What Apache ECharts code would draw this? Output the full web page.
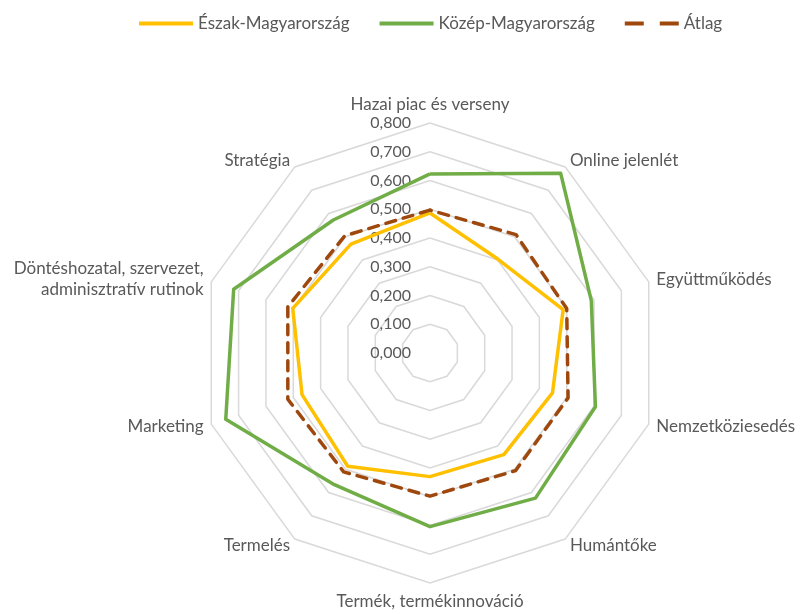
<!DOCTYPE html>
<html>
<head>
<meta charset="utf-8">
<script src="https://cdn.jsdelivr.net/npm/echarts@6/dist/echarts.min.js"></script>
<style>
  html, body { margin: 0; padding: 0; background: #ffffff; }
  #chart { width: 800px; height: 614px; }
</style>
</head>
<body>
<div id="chart"></div>
<script>
// Dimensions, listed clockwise from the top
const categories = [
  'Hazai piac és verseny',
  'Online jelenlét',
  'Együttműködés',
  'Nemzetköziesedés',
  'Humántőke',
  'Termék, termékinnováció',
  'Termelés',
  'Marketing',
  'Döntéshozatal, szervezet,\nadminisztratív rutinok',
  'Stratégia'
];

const seriesNames = ['Észak-Magyarország', 'Közép-Magyarország', 'Átlag'];

const eszakValues = [0.487, 0.403, 0.487, 0.448, 0.437, 0.430, 0.487, 0.468, 0.502, 0.468];
const kozepValues = [0.623, 0.773, 0.590, 0.605, 0.624, 0.604, 0.566, 0.747, 0.718, 0.572];
const atlagValues = [0.497, 0.509, 0.500, 0.505, 0.506, 0.498, 0.511, 0.520, 0.520, 0.504];

const axisMax = 0.8;
const axisSplits = 8;

// ECharts lays radar indicators out counter-clockwise, so keep the first
// one at the top and reverse the rest to get a clockwise order.
const order = [0].concat(categories.map((_, i) => i).slice(1).reverse());
const reorder = arr => order.map(i => arr[i]);

const labelFont = 'Lato, "Open Sans", sans-serif';
const textGray = '#595959';

const indicators = reorder(categories).map((name, i) => {
  const ind = { name: name, max: axisMax, min: 0 };
  if (i === 0) {
    ind.axisLabel = {
      show: true,
      margin: 19,
      color: textGray,
      fontSize: 16,
      fontFamily: labelFont,
      formatter: v => v.toFixed(3).replace('.', ',')
    };
  }
  return ind;
});

const colors = ['#FFC000', '#70AD47', '#9E480E'];

const chart = echarts.init(document.getElementById('chart'), null, { renderer: 'canvas' });

chart.setOption({
  animation: false,
  backgroundColor: '#ffffff',
  legend: {
    top: 10,
    left: 134,
    itemGap: 30,
    itemWidth: 54,
    itemHeight: 4,
    textStyle: { color: textGray, fontSize: 17, fontFamily: labelFont },
    data: [
      { name: seriesNames[0], icon: 'path://M0,0H54V4H0Z' },
      { name: seriesNames[1], icon: 'path://M0,0H54V4H0Z' },
      { name: seriesNames[2], icon: 'path://M0,0H19V4H0Z M35,0H54V4H35Z' }
    ]
  },
  radar: {
    center: [430, 353],
    radius: 230,
    startAngle: 90,
    shape: 'polygon',
    splitNumber: axisSplits,
    indicator: indicators,
    nameGap: 8,
    axisName: {
      color: textGray,
      fontSize: 17,
      fontFamily: labelFont,
      lineHeight: 21
    },
    axisLine: { show: false },
    axisTick: { show: false },
    axisLabel: { show: false },
    splitArea: { show: false },
    splitLine: { lineStyle: { color: '#D9D9D9', width: 1.5 } }
  },
  series: [{
    type: 'radar',
    symbol: 'none',
    data: [
      {
        name: seriesNames[0],
        value: reorder(eszakValues),
        lineStyle: { color: colors[0], width: 3.5 },
        itemStyle: { color: colors[0] }
      },
      {
        name: seriesNames[1],
        value: reorder(kozepValues),
        lineStyle: { color: colors[1], width: 3.5 },
        itemStyle: { color: colors[1] }
      },
      {
        name: seriesNames[2],
        value: reorder(atlagValues),
        lineStyle: { color: colors[2], width: 3.5, type: [10, 8], cap: 'round' },
        itemStyle: { color: colors[2] }
      }
    ]
  }]
});
</script>
</body>
</html>
